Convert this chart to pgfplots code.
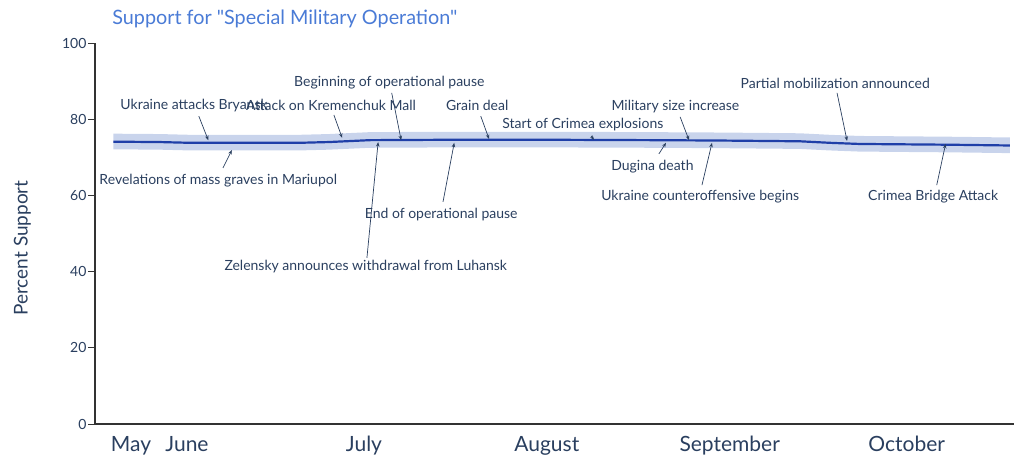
\documentclass[border=0pt]{standalone}
\usepackage{pgfplots}
\pgfplotsset{compat=1.18}
\usepgfplotslibrary{fillbetween}
\usetikzlibrary{arrows.meta}
\usepackage{fontspec}
\setmainfont{Lato}
\newfontfamily\plainlato{Lato}
\definecolor{txt}{HTML}{2A3F5F}
\definecolor{ttl}{HTML}{4A7BD6}
\definecolor{ln}{HTML}{1F3FA8}
\definecolor{band}{HTML}{C9D4EC}
\newcommand\annfont{\fontsize{14bp}{16bp}\selectfont}
\newcommand\ann[7]{%
  \node[font=\annfont, text=txt, inner sep=0pt] at (axis cs:#1,#2) {#3};
  \draw[txt, line width=0.7bp, -{Stealth[length=4.5bp,width=3.5bp]}] (axis cs:#4,#5) -- (axis cs:#6,#7);}
\pgfplotstableread{
d v up lo
-12.5 74.1 76.2 72.1
-4.6 74.0 76.1 72.0
0.5 73.8 75.9 71.8
19 73.8 75.9 71.8
24 74.0 76.1 72.0
31 74.5 76.6 72.5
44.6 74.6 76.7 72.6
61.5 74.6 76.7 72.6
78.5 74.5 76.6 72.5
90.3 74.4 76.5 72.4
103.9 74.2 76.3 72.2
109 73.8 75.9 71.8
114 73.5 75.6 71.5
129.3 73.3 75.4 71.3
139.5 73.1 75.2 71.1
}\datatable
\begin{document}
\begin{tikzpicture}
\begin{axis}[
  at={(0,0)}, anchor=south west,
  scale only axis, width=919bp, height=381bp,
  xmin=-15.6, xmax=140.2, ymin=0, ymax=100,
  axis x line*=bottom, axis y line*=left,
  axis line style={-, line width=1.2bp, color=black!80},
  xtick={-9.5,0,30,61,92,122},
  xticklabels={May,June,July,August,September,October},
  xtick style={draw=none},
  xticklabel style={font=\fontsize{21bp}{25bp}\selectfont, text=txt, yshift=-2bp},
  ytick={0,20,40,60,80,100},
  tick align=outside, major tick length=7bp,
  ytick style={line width=0.8bp, color=black!80},
  yticklabel style={font=\fontsize{14bp}{16bp}\selectfont, text=txt, xshift=2bp},
  /pgf/number format/assume math mode=true,
  ylabel={Percent Support},
  every axis y label/.style={at={(rel axis cs:-0.079,0.462)}, rotate=90, anchor=center, font=\fontsize{19bp}{23bp}\selectfont, text=txt},
  clip=false,
]
\addplot[name path=up, draw=none, forget plot] table[x=d, y=up] {\datatable};
\addplot[name path=lo, draw=none, forget plot] table[x=d, y=lo] {\datatable};
\addplot[band, fill opacity=1, forget plot] fill between[of=up and lo];
\addplot[ln, line width=2.2bp] table[x=d, y=v] {\datatable};

\node[anchor=west, font=\plainlato\fontsize{19.8bp}{23bp}\selectfont, text=ttl, inner sep=0pt] at (axis cs:-12.7,106.3) {Support for "Special Military Operation"};

\ann{1.2}{83.7}{Ukraine attacks Bryansk}{2.0}{80.8}{3.6}{74.5}
\ann{24.4}{83.7}{Attack on Kremenchuk Mall}{24.9}{81.1}{26.3}{75.1}
\ann{34.3}{89.5}{Beginning of operational pause}{34.7}{86.9}{36.3}{74.5}
\ann{49.2}{83.5}{Grain deal}{49.8}{80.8}{51.2}{74.8}
\ann{67.1}{78.7}{Start of Crimea explosions}{68.5}{75.6}{69.0}{74.6}
\ann{82.8}{83.2}{Military size increase}{83.6}{80.6}{85.1}{74.5}
\ann{78.9}{67.5}{Dugina death}{80.0}{70.9}{81.2}{73.8}
\ann{87.0}{59.8}{Ukraine counteroffensive begins}{87.3}{62.7}{89.0}{73.8}
\ann{109.9}{89.5}{Partial mobilization announced}{110.2}{86.9}{111.9}{74.3}
\ann{126.5}{59.8}{Crimea Bridge Attack}{127.1}{62.7}{128.6}{73.5}
\ann{5.3}{64.0}{Revelations of mass graves in Mariupol}{6.1}{67.2}{7.6}{71.9}
\ann{30.3}{41.2}{Zelensky announces withdrawal from Luhansk}{30.5}{43.6}{32.4}{74.0}
\ann{43.1}{55.1}{End of operational pause}{43.4}{58.3}{45.3}{73.8}
\end{axis}
\path (-95bp,-44bp) rectangle (929bp,424bp);
\end{tikzpicture}
\end{document}
